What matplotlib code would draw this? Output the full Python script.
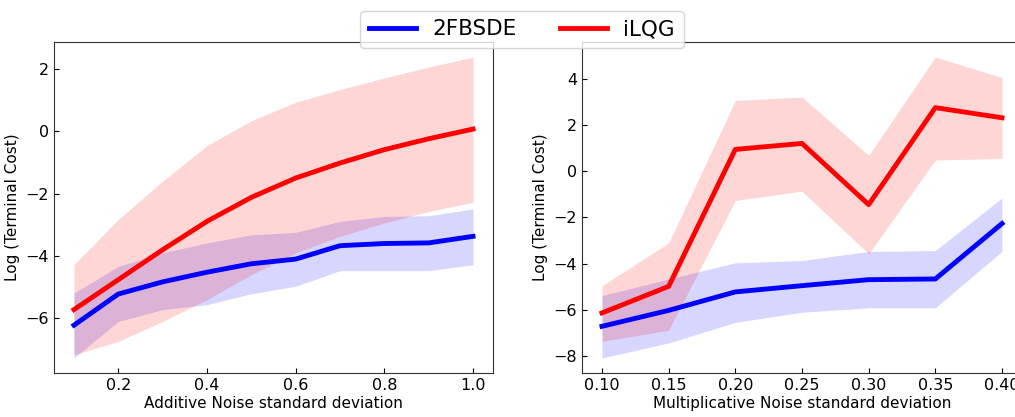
import matplotlib.pyplot as plt

# additive noise panel
x_add = [0.1, 0.2, 0.3, 0.4, 0.5, 0.6, 0.7, 0.8, 0.9, 1.0]
fb_add = [-6.22, -5.22, -4.83, -4.52, -4.25, -4.1, -3.67, -3.6, -3.58, -3.37]
fb_add_hi = [-5.19, -4.33, -3.9, -3.58, -3.32, -3.24, -2.89, -2.73, -2.71, -2.49]
fb_add_lo = [-7.27, -6.1, -5.72, -5.56, -5.21, -4.97, -4.47, -4.47, -4.47, -4.28]
ilqg_add = [-5.72, -4.76, -3.8, -2.89, -2.12, -1.5, -1.02, -0.59, -0.24, 0.07]
ilqg_add_hi = [-4.28, -2.83, -1.6, -0.46, 0.34, 0.93, 1.34, 1.71, 2.06, 2.38]
ilqg_add_lo = [-7.17, -6.74, -6.1, -5.4, -4.6, -3.9, -3.37, -2.94, -2.57, -2.28]

# multiplicative noise panel
x_mul = [0.10, 0.15, 0.20, 0.25, 0.30, 0.35, 0.40]
fb_mul = [-6.72, -6.03, -5.23, -4.96, -4.7, -4.67, -2.27]
fb_mul_hi = [-5.39, -4.67, -3.97, -3.87, -3.48, -3.44, -1.16]
fb_mul_lo = [-8.09, -7.44, -6.55, -6.11, -5.92, -5.92, -3.47]
ilqg_mul = [-6.14, -4.99, 0.94, 1.2, -1.45, 2.75, 2.31]
ilqg_mul_hi = [-4.96, -3.11, 3.06, 3.21, 0.68, 4.94, 4.05]
ilqg_mul_lo = [-7.37, -6.89, -1.27, -0.87, -3.58, 0.48, 0.55]

fig = plt.figure(figsize=(10.15, 4.17), dpi=100)
ax1 = fig.add_axes([54 / 1015, 1 - 373 / 417, 439 / 1015, 331 / 417])
ax2 = fig.add_axes([582 / 1015, 1 - 373 / 417, 440 / 1015, 331 / 417])

panels = [
    (ax1, x_add, fb_add, fb_add_lo, fb_add_hi, ilqg_add, ilqg_add_lo, ilqg_add_hi,
     "Additive Noise standard deviation"),
    (ax2, x_mul, fb_mul, fb_mul_lo, fb_mul_hi, ilqg_mul, ilqg_mul_lo, ilqg_mul_hi,
     "Multiplicative Noise standard deviation"),
]

for ax, x, fb, fb_lo, fb_hi, il, il_lo, il_hi, xlabel in panels:
    ax.fill_between(x, fb_lo, fb_hi, color="blue", alpha=0.16, linewidth=0)
    ax.fill_between(x, il_lo, il_hi, color="red", alpha=0.16, linewidth=0)
    ax.plot(x, fb, color="blue", lw=3.5, label="2FBSDE")
    ax.plot(x, il, color="red", lw=3.5, label="iLQG")
    ax.set_xlabel(xlabel, fontsize=11, labelpad=2)
    ax.set_ylabel("Log (Terminal Cost)", fontsize=11)
    ax.tick_params(direction="in", labelsize=11.5)
    for s in ax.spines.values():
        s.set_color("#333333")

ax1.set_xticks([0.2, 0.4, 0.6, 0.8, 1.0])
ax1.set_yticks([-6, -4, -2, 0, 2])
ax2.set_xticks(x_mul)
ax2.set_xticklabels(["%.2f" % v for v in x_mul])
ax2.set_yticks([-8, -6, -4, -2, 0, 2, 4])

h, l = ax1.get_legend_handles_labels()
fig.legend(h, l, loc="upper center", bbox_to_anchor=(522 / 1015, 1.0), ncol=2,
           fontsize=15.5, handlelength=2.2, handletextpad=0.75, columnspacing=2.0)

fig.savefig("out.png", dpi=100)
